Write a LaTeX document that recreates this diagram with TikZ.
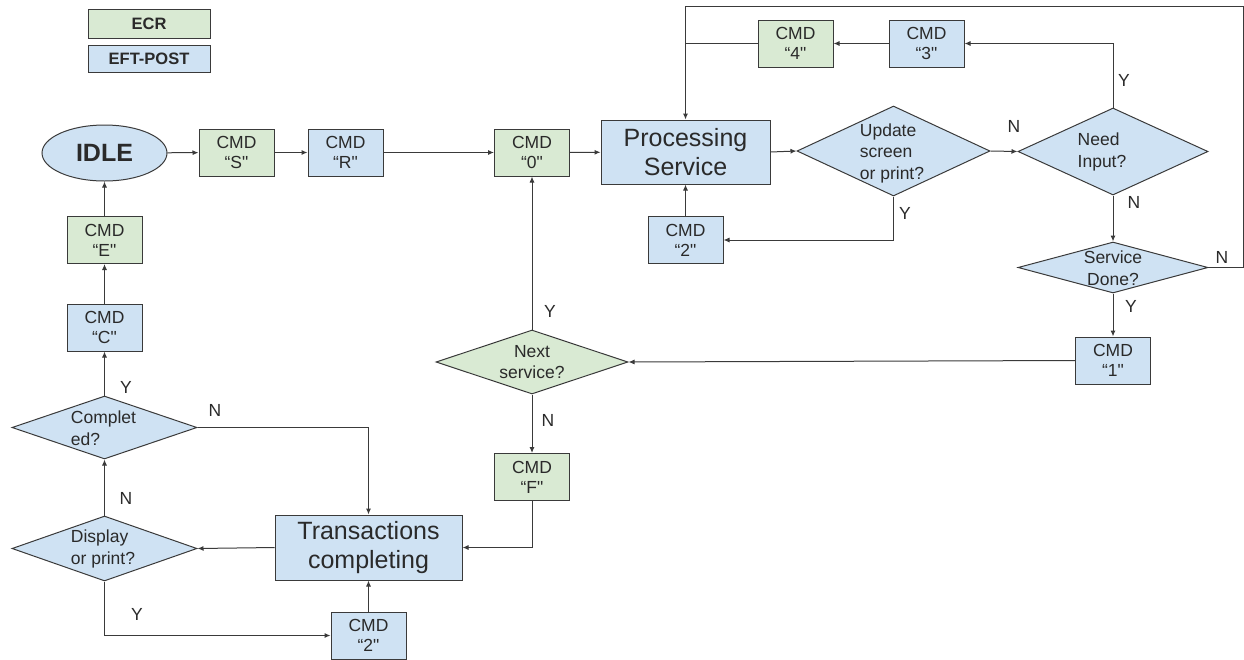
\documentclass[tikz,border=0pt]{standalone}
\usepackage{fontspec}
\setmainfont[Ligatures=NoCommon]{Liberation Sans}
\usetikzlibrary{shapes.geometric,arrows.meta}
\definecolor{ecr}{HTML}{D9EAD3}
\definecolor{eft}{HTML}{CFE2F3}
\definecolor{edge}{HTML}{3A3A3A}
\definecolor{txt}{HTML}{2A2A2A}
\newcommand{\cq}{\textquotedbl}
\tikzset{
  box/.style={draw=edge, line width=1pt, minimum width=75pt, minimum height=47pt, inner sep=0pt, align=center, font=\fontsize{17.5}{20}\selectfont, text=txt},
  gbox/.style={box, fill=ecr},
  bbox/.style={box, fill=eft},
  big/.style={font=\fontsize{25}{29}\selectfont},
  dia/.style={shape=diamond, draw=edge, line width=1pt, inner sep=0pt, aspect=2},
  dtext/.style={font=\fontsize{17.5}{21.5}\selectfont, text=txt, inner sep=0pt},
  arr/.style={draw=edge, line width=1pt, -{Latex[length=6pt,width=5pt]}},
  ln/.style={draw=edge, line width=1pt},
  lab/.style={font=\fontsize{17.5}{20}\selectfont, text=txt}
}
\begin{document}
\begin{tikzpicture}[x=1pt,y=-1pt]
\useasboundingbox (0,0) rectangle (1244,659);
% legend
\node[gbox, minimum width=122pt, minimum height=29pt, font=\bfseries\fontsize{16.5}{18}\selectfont] (lecr) at (149,23.5) {ECR};
\node[bbox, minimum width=122pt, minimum height=27pt, font=\bfseries\fontsize{16.5}{18}\selectfont] (left) at (149,58.5) {EFT-POST};
% top row
\node[ellipse, draw=edge, line width=1pt, fill=eft, minimum width=125pt, minimum height=56pt, inner sep=0pt, font=\bfseries\fontsize{25}{28}\selectfont, text=txt] (idle) at (104.5,153) {IDLE};
\node[gbox] (cs) at (236.5,152.5) {CMD\\“S\cq};
\node[bbox] (cr) at (345.5,152.5) {CMD\\“R\cq};
\node[gbox] (c0) at (532,152.5) {CMD\\“0\cq};
\node[bbox, big, minimum width=169pt, minimum height=64pt] (proc) at (685.5,152) {Processing\\Service};
\node[dia, fill=eft, minimum width=193pt, minimum height=90pt] (upd) at (893.5,151) {};
\node[dtext, align=left] (updt) at (892,153) {Update\\screen\\or print?};
\node[dia, fill=eft, minimum width=190pt, minimum height=87pt] (need) at (1113,151.5) {};
\node[dtext, align=left] (needt) at (1102,152) {Need\\Input?};
\node[bbox] (c3) at (926.5,43.5) {CMD\\“3\cq};
\node[gbox] (c4) at (795.5,43.5) {CMD\\“4\cq};
\node[bbox] (c2a) at (685.5,240) {CMD\\“2\cq};
\node[dia, fill=eft, minimum width=190pt, minimum height=51pt] (done) at (1113,267.5) {};
\node[dtext, align=center] (donet) at (1113,268) {Service\\Done?};
\node[bbox] (c1) at (1113,360.5) {CMD\\“1\cq};
\node[dia, fill=ecr, minimum width=192pt, minimum height=64pt] (next) at (532,362) {};
\node[dtext, align=center] (nextt) at (532,362) {Next\\service?};
\node[gbox] (cf) at (532,477) {CMD\\“F\cq};
% left column
\node[bbox, big, minimum width=187pt, minimum height=65pt] (trans) at (368.5,547.5) {Transactions\\completing};
\node[dia, fill=eft, minimum width=185pt, minimum height=65pt] (disp) at (104.5,548.5) {};
\node[dtext, align=left] (dispt) at (103,549) {Display\\or print?};
\node[bbox] (c2b) at (368.5,635.5) {CMD\\“2\cq};
\node[dia, fill=eft, minimum width=185pt, minimum height=63pt] (comp) at (104.5,427.5) {};
\node[dtext, align=left] (compt) at (103.5,428) {Complet\\ed?};
\node[bbox] (cc) at (104.5,327.5) {CMD\\“C\cq};
\node[gbox] (ce) at (104.5,240) {CMD\\“E\cq};
\coordinate (tr) at (1243,6);
% connectors
\draw[arr] (idle) -- (cs);
\draw[arr] (cs) -- (cr);
\draw[arr] (cr) -- (c0);
\draw[arr] (c0) -- (proc);
\draw[arr] (proc.east) -- (upd.west);
\draw[arr] (upd.east) -- (need.west);
\draw[arr] (need.north) |- (c3.east);
\draw[arr] (c3) -- (c4);
\draw[ln] (c4.west) -- (c4.west -| proc.north);
\draw[arr] (done.east) -| (tr) -| (proc.north);
\draw[arr] (upd.south) |- (c2a.east);
\draw[arr] (c2a) -- (proc);
\draw[arr] (need.south) -- (done.north);
\draw[arr] (done.south) -- (c1.north);
\draw[arr] (c1.west) -- (next.east);
\draw[arr] (next.north) -- (c0.south);
\draw[arr] (next.south) -- (cf.north);
\draw[arr] (cf.south) |- (trans.east);
\draw[arr] (trans.west) -- (disp.east);
\draw[arr] (disp.south) |- (c2b.west);
\draw[arr] (c2b) -- (trans);
\draw[arr] (disp.north) -- (comp.south);
\draw[arr] (comp.east) -| (trans.north);
\draw[arr] (comp.north) -- (cc.south);
\draw[arr] (cc) -- (ce);
\draw[arr] (ce) -- (idle);
% labels
\node[lab] (l1) at (1124,80) {Y};
\node[lab] (l2) at (1014,126) {N};
\node[lab] (l3) at (1134,202) {N};
\node[lab] (l4) at (905,213) {Y};
\node[lab] (l5) at (1222,257) {N};
\node[lab] (l6) at (1131,306) {Y};
\node[lab] (l7) at (550,311) {Y};
\node[lab] (l8) at (548,420) {N};
\node[lab] (l9) at (215,410) {N};
\node[lab] (l10) at (126,387) {Y};
\node[lab] (l11) at (126,498) {N};
\node[lab] (l12) at (137,614) {Y};
\end{tikzpicture}
\end{document}
